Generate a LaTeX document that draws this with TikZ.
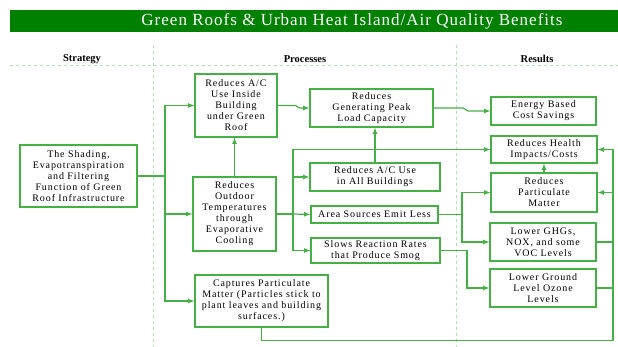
\documentclass[tikz,border=0pt]{standalone}
\usepackage{fontspec}
\setmainfont{Liberation Serif}
\newfontfamily\boxfont[LetterSpace=9]{Liberation Serif}
\newfontfamily\titlefont[LetterSpace=6]{Liberation Serif}
\usepackage{tikz}
\usepackage{xcolor}
\definecolor{bandgreen}{RGB}{0,128,0}
\definecolor{linegreen}{RGB}{70,175,70}
\definecolor{guidegreen}{RGB}{180,222,180}

\begin{document}
\begin{tikzpicture}[x=1pt,y=-1pt,
  box/.style={draw=linegreen,line width=1.2pt,align=center,inner sep=1pt,font=\boxfont\fontsize{10}{11}\selectfont},
  link/.style={draw=linegreen,line width=1.2pt},
  arr/.style={link,-latex},
  guide/.style={draw=guidegreen,dashed,line width=0.8pt},
  head/.style={font=\fontsize{10.5}{12}\selectfont\bfseries}]
\useasboundingbox (0,0) rectangle (618,347);
% title band
\fill[bandgreen] (10,10) rectangle (618,32);
\node[text=white,font=\titlefont\fontsize{17}{19}\selectfont] (title) at (352,21) {Green Roofs \& Urban Heat Island/Air Quality Benefits};
% column headings
\draw[guide] (10,65)--(618,65);
\draw[guide] (153,45)--(153,347);
\draw[guide] (456,45)--(456,347);
\node[head] (hstrat) at (82,59) {Strategy};
\node[head] (hproc) at (305,59) {Processes};
\node[head] (hres) at (537,59) {Results};
% strategy
\node[box,minimum width=117,minimum height=62] (strat) at (78.5,176) {The Shading,\\Evapotranspiration\\and Filtering\\Function of Green\\Roof Infrastructure};
% processes
\node[box,minimum width=82,minimum height=63] (acin) at (236,105.5) {Reduces A/C\\Use Inside\\Building\\under Green\\Roof};
\node[box,minimum width=123,minimum height=38] (peak) at (371.5,108) {Reduces\\Generating Peak\\Load Capacity};
\node[box,minimum width=83,minimum height=74] (outdoor) at (234.5,214) {Reduces\\Outdoor\\Temperatures\\through\\Evaporative\\Cooling};
\node[box,minimum width=130,minimum height=28] (acall) at (375,177) {Reduces A/C Use\\in All Buildings};
\node[box,minimum width=127,minimum height=17] (area) at (374.5,214.5) {Area Sources Emit Less};
\node[box,minimum width=129,minimum height=25] (smog) at (375.5,250.5) {Slows Reaction Rates\\that Produce Smog};
\node[box,minimum width=133,minimum height=52] (captures) at (261.5,301) {Captures Particulate\\Matter (Particles stick to\\plant leaves and building\\surfaces.)};
% results
\node[box,minimum width=105,minimum height=28] (energy) at (543.5,111) {Energy Based\\Cost Savings};
\node[box,minimum width=106,minimum height=27] (health) at (544,149.5) {Reduces Health\\Impacts/Costs};
\node[box,minimum width=106,minimum height=39] (partic) at (544,192.5) {Reduces\\Particulate\\Matter};
\node[box,minimum width=106,minimum height=38] (ghg) at (543,242) {Lower GHGs,\\NOX, and some\\VOC Levels};
\node[box,minimum width=106,minimum height=38] (ozone) at (543,288) {Lower Ground\\Level Ozone\\Levels};
% junction points
\coordinate (t1) at (165,176);
\coordinate (t2) at (293,214);
\coordinate (t3) at (462,214.5);
\coordinate (t4) at (467,250.5);
\coordinate (rt) at (613,149.5);
% strategy to processes
\draw[link] (strat.east)--(t1);
\draw[arr] (t1) |- (acin.west);
\draw[arr] (t1) |- (outdoor.west);
\draw[arr] (t1) |- (captures.west);
\draw[arr] (outdoor.north)--(outdoor.north |- acin.south);
\draw[arr] (acin.east)--++(18,0)--([xshift=-10pt]peak.west)--(peak.west);
\draw[arr] (acall.north)--(acall.north |- peak.south);
% outdoor temperatures
\draw[link] (outdoor.east)--(t2);
\draw[arr] (t2) |- (acall.west);
\draw[arr] (t2)--(area.west);
\draw[arr] (t2) |- (smog.west);
\draw[arr] (t2) |- (health.west);
% processes to results
\draw[arr] (peak.east)--(463,108)--(468,111)--(energy.west);
\draw[link] (area.east)--(t3);
\draw[arr] (t3) |- (partic.west);
\draw[arr] (t3) |- (ghg.west);
\draw[link] (smog.east)--(t4);
\draw[arr] (t4) |- (ozone.west);
\draw[arr] (partic.north)--(health.south);
% right-hand return line
\draw[link] (captures.south)--++(0,13) -| (rt);
\draw[arr] (rt)--(health.east);
\draw[arr] (partic.east -| rt)--(partic.east);
\draw[link] (ghg.east)--(ghg.east -| rt);
\draw[link] (ozone.east)--(ozone.east -| rt);
\end{tikzpicture}
\end{document}
